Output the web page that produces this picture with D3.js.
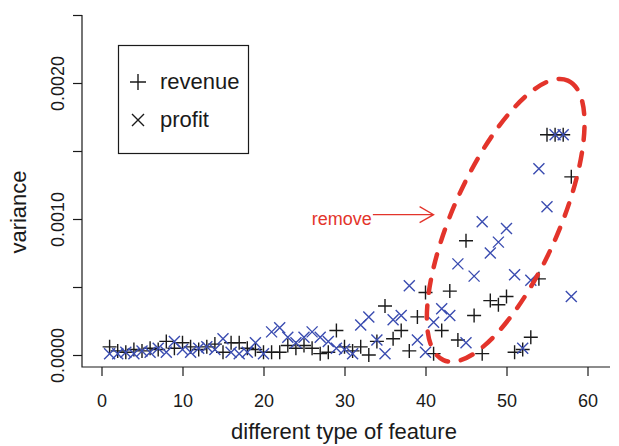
<!DOCTYPE html>
<html>
<head>
<meta charset="utf-8">
<script src="https://cdn.jsdelivr.net/npm/d3@7"></script>
<style>
	body { margin: 0; background: #fff; }
	svg { display: block; font-family: "Liberation Sans", Arial, Helvetica, sans-serif; }
</style>
</head>
<body>
<svg id="chart" width="619" height="446"></svg>
<script>
var features = [1, 2, 3, 4, 5, 6, 7, 8, 9, 10, 11, 12, 13, 14, 15, 16, 17, 18, 19, 20,
	21, 22, 23, 24, 25, 26, 27, 28, 29, 30, 31, 32, 33, 34, 35, 36, 37, 38, 39, 40,
	41, 42, 43, 44, 45, 46, 47, 48, 49, 50, 51, 52, 53, 54, 55, 56, 57, 58];

var revenue = [0.00006, 0.00003, 0.00002, 0.00004, 0.00003, 0.00005, 0.00004, 0.00010, 0.00005, 0.00009,
	0.00006, 0.00004, 0.00006, 0.00008, 0.00002, 0.00009, 0.00009, 0.00005, 0.00004, 0.00002,
	0.00002, 0.00002, 0.00007, 0.00005, 0.00007, 0.00005, 0.00001, 0.00002, 0.00018, 0.00006,
	0.00003, 0.00006, 0.00000, 0.00010, 0.00036, 0.00012, 0.00018, 0.00003, 0.00028, 0.00046,
	0.00001, 0.00018, 0.00047, 0.00011, 0.00084, 0.00029, 0.00001, 0.00040, 0.00037, 0.00043,
	0.00002, 0.00004, 0.00013, 0.00056, 0.00162, 0.00162, 0.00162, 0.00131];

var profit = [0.00001, 0.00001, 0.00002, 0.00001, 0.00003, 0.00002, 0.00005, 0.00002, 0.00010, 0.00004,
	0.00002, 0.00005, 0.00006, 0.00004, 0.00012, 0.00002, 0.00001, 0.00002, 0.00009, 0.00001,
	0.00017, 0.00020, 0.00013, 0.00009, 0.00013, 0.00017, 0.00013, 0.00010, 0.00005, 0.00004,
	0.00001, 0.00022, 0.00028, 0.00011, 0.00001, 0.00026, 0.00029, 0.00051, 0.00011, 0.00002,
	0.00024, 0.00034, 0.00029, 0.00067, 0.00009, 0.00058, 0.00098, 0.00075, 0.00083, 0.00093,
	0.00059, 0.00005, 0.00055, 0.00137, 0.00109, 0.00162, 0.00162, 0.00043];

var xTicks = [0, 10, 20, 30, 40, 50, 60];
var yTicks = [0, 0.0005, 0.0010, 0.0015, 0.0020, 0.0025];
var yTickLabels = ["0.0000", "", "0.0010", "", "0.0020", ""];
var seriesNames = ["revenue", "profit"];

// annotation, in data units
var removeCenter = [49.9, 0.00099];
var removeArrowFrom = [33.5, 0.00101];
var removeArrowTo = [41, 0.00101];

var svg = d3.select("#chart");
var box = {left: 82, right: 610, top: 15, bottom: 367};

var x = d3.scaleLinear().domain([0, 60]).range([101.5, 587.5]);
var y = d3.scaleLinear().domain([0, 0.0025]).range([355, 15]);

var black = "#1a1a1a";
var blue = "#3a4cb0";
var red = "#e3342b";

// box (left + bottom only)
svg.append("path")
	.attr("d", "M" + box.left + "," + box.top + " L" + box.left + "," + box.bottom + " L" + box.right + "," + box.bottom)
	.attr("fill", "none")
	.attr("stroke", black)
	.attr("stroke-width", 1.2);

var xAxis = svg.append("g")
	.attr("transform", "translate(0," + box.bottom + ")")
	.call(d3.axisBottom(x).tickValues(xTicks).tickSize(9).tickPadding(18).tickFormat(d3.format("d")));
xAxis.select(".domain").remove();
xAxis.selectAll("line").attr("stroke", black).attr("stroke-width", 1.2);
xAxis.selectAll("text").attr("font-size", 18).attr("fill", black).attr("font-family", null);

var yAxis = svg.append("g")
	.attr("transform", "translate(" + box.left + ",0)")
	.call(d3.axisLeft(y).tickValues(yTicks).tickSize(9).tickFormat(function (d, i) { return yTickLabels[i]; }));
yAxis.select(".domain").remove();
yAxis.selectAll("line").attr("stroke", black).attr("stroke-width", 1.2);
yAxis.selectAll("text")
	.attr("font-size", 18)
	.attr("fill", black)
	.attr("font-family", null)
	.attr("text-anchor", "middle")
	.attr("x", 0)
	.attr("dy", 0)
	.attr("transform", "translate(-18,0) rotate(-90)");

// axis titles
svg.append("text")
	.attr("x", 344)
	.attr("y", 439)
	.attr("text-anchor", "middle")
	.attr("font-size", 22)
	.attr("fill", black)
	.text("different type of feature");

svg.append("text")
	.attr("transform", "translate(26,212) rotate(-90)")
	.attr("text-anchor", "middle")
	.attr("font-size", 22)
	.attr("fill", black)
	.text("variance");

function plusPath(cx, cy, r) {
	return "M" + (cx - r) + "," + cy + " L" + (cx + r) + "," + cy +
		" M" + cx + "," + (cy - r) + " L" + cx + "," + (cy + r);
}

function timesPath(cx, cy, r) {
	return "M" + (cx - r) + "," + (cy - r) + " L" + (cx + r) + "," + (cy + r) +
		" M" + (cx - r) + "," + (cy + r) + " L" + (cx + r) + "," + (cy - r);
}

// points
svg.append("g").selectAll("path")
	.data(features)
	.join("path")
	.attr("d", function (d, i) { return plusPath(x(d), y(revenue[i]), 7); })
	.attr("stroke", black)
	.attr("stroke-width", 1.4)
	.attr("fill", "none");

svg.append("g").selectAll("path")
	.data(features)
	.join("path")
	.attr("d", function (d, i) { return timesPath(x(d), y(profit[i]), 5.5); })
	.attr("stroke", blue)
	.attr("stroke-width", 1.4)
	.attr("fill", "none");

// legend
var legend = svg.append("g");
legend.append("rect")
	.attr("x", 118.5).attr("y", 45.5)
	.attr("width", 130).attr("height", 108)
	.attr("fill", "#fff")
	.attr("stroke", black)
	.attr("stroke-width", 1.2);
legend.append("path")
	.attr("d", plusPath(138, 82, 8))
	.attr("stroke", black).attr("stroke-width", 1.4).attr("fill", "none");
legend.append("path")
	.attr("d", timesPath(138, 120, 6))
	.attr("stroke", black).attr("stroke-width", 1.4).attr("fill", "none");
legend.selectAll("text")
	.data(seriesNames)
	.join("text")
	.attr("x", 160)
	.attr("y", function (d, i) { return 89 + i * 38; })
	.attr("font-size", 22)
	.attr("fill", black)
	.text(function (d) { return d; });

// the "remove" annotation
var cx = x(removeCenter[0]), cy = y(removeCenter[1]);
svg.append("ellipse")
	.attr("cx", cx).attr("cy", cy)
	.attr("rx", 153).attr("ry", 53)
	.attr("transform", "rotate(-66," + cx + "," + cy + ")")
	.attr("fill", "none")
	.attr("stroke", red)
	.attr("stroke-width", 4.5)
	.attr("stroke-linecap", "round")
	.attr("stroke-dasharray", "13 13");

var ax0 = x(removeArrowFrom[0]), ax1 = x(removeArrowTo[0]), ay = y(removeArrowTo[1]) - 3;
svg.append("path")
	.attr("d", "M" + ax0 + "," + ay + " L" + ax1 + "," + ay +
		" M" + (ax1 - 14) + "," + (ay - 8) + " L" + ax1 + "," + ay + " L" + (ax1 - 14) + "," + (ay + 8))
	.attr("fill", "none")
	.attr("stroke", red)
	.attr("stroke-width", 1.3);

svg.append("text")
	.attr("x", ax0 - 1)
	.attr("y", ay + 10)
	.attr("text-anchor", "end")
	.attr("font-size", 18)
	.attr("fill", red)
	.text("remove");
</script>
</body>
</html>
